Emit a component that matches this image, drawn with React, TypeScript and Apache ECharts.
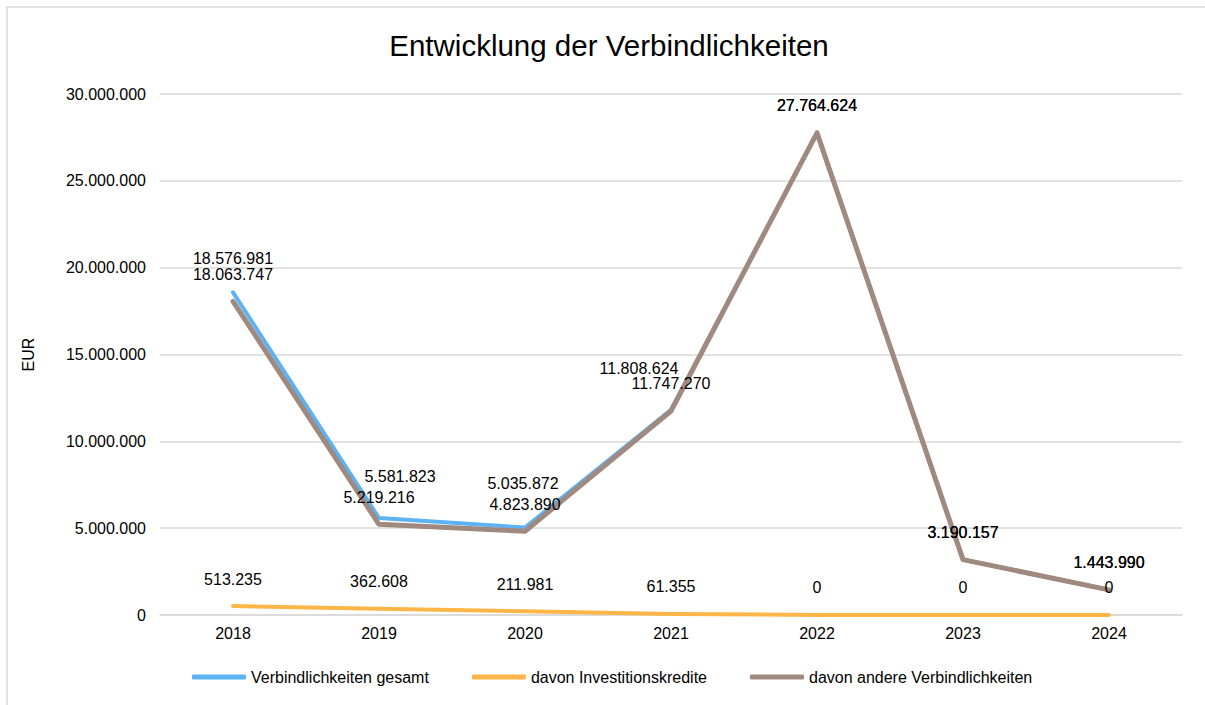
import React, { useEffect, useRef } from "react";
import * as echarts from "echarts";

const categories = ["2018", "2019", "2020", "2021", "2022", "2023", "2024"];
const totalValues = [18576981, 5581823, 5035872, 11808624, 27764624, 3190157, 1443990];
const investValues = [513235, 362608, 211981, 61355, 0, 0, 0];
const otherValues = [18063747, 5219216, 4823890, 11747270, 27764624, 3190157, 1443990];
const seriesNames = [
  "Verbindlichkeiten gesamt",
  "davon Investitionskredite",
  "davon andere Verbindlichkeiten",
];
// label nudges (px) for the "gesamt" series, as placed in the reference
const totalLabelShift = [
  [0, -7],
  [21, -15],
  [-2, -17],
  [-32, -14],
  [0, 0],
  [0, 0],
  [0, 0],
];

const fmt = (v: number) => String(Math.round(v)).replace(/\B(?=(\d{3})+(?!\d))/g, ".");

const COLORS = ["#5CB3F4", "#FFB547", "#A0897F"];
const FONT = "'Liberation Sans', Arial, sans-serif";

export default function App() {
  const ref = useRef<HTMLDivElement>(null);
  useEffect(() => {
    if (!ref.current) return;
    const chart = echarts.init(ref.current, undefined, { renderer: "svg" });
    const labelBase = {
      show: true,
      position: "top",
      distance: 19,
      fontSize: 16,
      fontFamily: FONT,
      color: "#000",
      formatter: (p: any) => fmt(p.value),
    };
    const mk = (name: string, vals: number[], color: string, width: number, shifts?: number[][]) => ({
      name,
      type: "line",
      symbol: "circle",
      symbolSize: 0.1,
      showSymbol: true,
      color,
      lineStyle: { width, color, cap: "round", join: "round" },
      label: labelBase,
      data: vals.map((v, i) =>
        shifts ? { value: v, label: { offset: shifts[i] } } : { value: v }
      ),
    });
    chart.setOption({
      animation: false,
      backgroundColor: "#fff",
      textStyle: { fontFamily: FONT },
      graphic: [
        {
          type: "rect",
          shape: { x: 7, y: 7, width: 1400, height: 1000 },
          style: { fill: "none", stroke: "#d9d9d9", lineWidth: 1.5 },
          silent: true,
        },
        {
          type: "text",
          x: 609,
          y: 45,
          style: {
            text: "Entwicklung der Verbindlichkeiten",
            fontSize: 29.5,
            fontFamily: FONT,
            fill: "#000",
            textAlign: "center",
            textVerticalAlign: "middle",
          },
        },
      ],
      legend: {
        left: 187,
        top: 664,
        icon: "roundRect",
        itemWidth: 54,
        itemHeight: 5,
        itemGap: 43,
        textStyle: { fontSize: 16, fontFamily: FONT, color: "#000" },
        data: seriesNames,
      },
      grid: { left: 160, right: 23, top: 94, bottom: 90, containLabel: false },
      xAxis: {
        type: "category",
        data: categories,
        boundaryGap: true,
        axisLine: { show: true, lineStyle: { color: "#d9d9d9", width: 1.5 } },
        axisTick: { show: false },
        axisLabel: { fontSize: 16, fontFamily: FONT, color: "#000", margin: 10 },
      },
      yAxis: {
        type: "value",
        min: 0,
        max: 30000000,
        interval: 5000000,
        name: "EUR",
        nameLocation: "middle",
        nameRotate: 90,
        nameGap: 124,
        nameTextStyle: { fontSize: 16, fontFamily: FONT, color: "#000" },
        axisLine: { show: false },
        axisTick: { show: false },
        splitLine: { lineStyle: { color: "#d9d9d9", width: 1.5 } },
        axisLabel: {
          fontSize: 16,
          fontFamily: FONT,
          color: "#000",
          margin: 14,
          formatter: (v: number) => fmt(v),
        },
      },
      series: [
        mk(seriesNames[0], totalValues, COLORS[0], 4, totalLabelShift),
        mk(seriesNames[1], investValues, COLORS[1], 4),
        mk(seriesNames[2], otherValues, COLORS[2], 5),
      ],
    });
    return () => chart.dispose();
  }, []);
  return (
    <div
      ref={ref}
      style={{ position: "fixed", left: 0, top: 0, width: 1205, height: 705, background: "#fff" }}
    />
  );
}
